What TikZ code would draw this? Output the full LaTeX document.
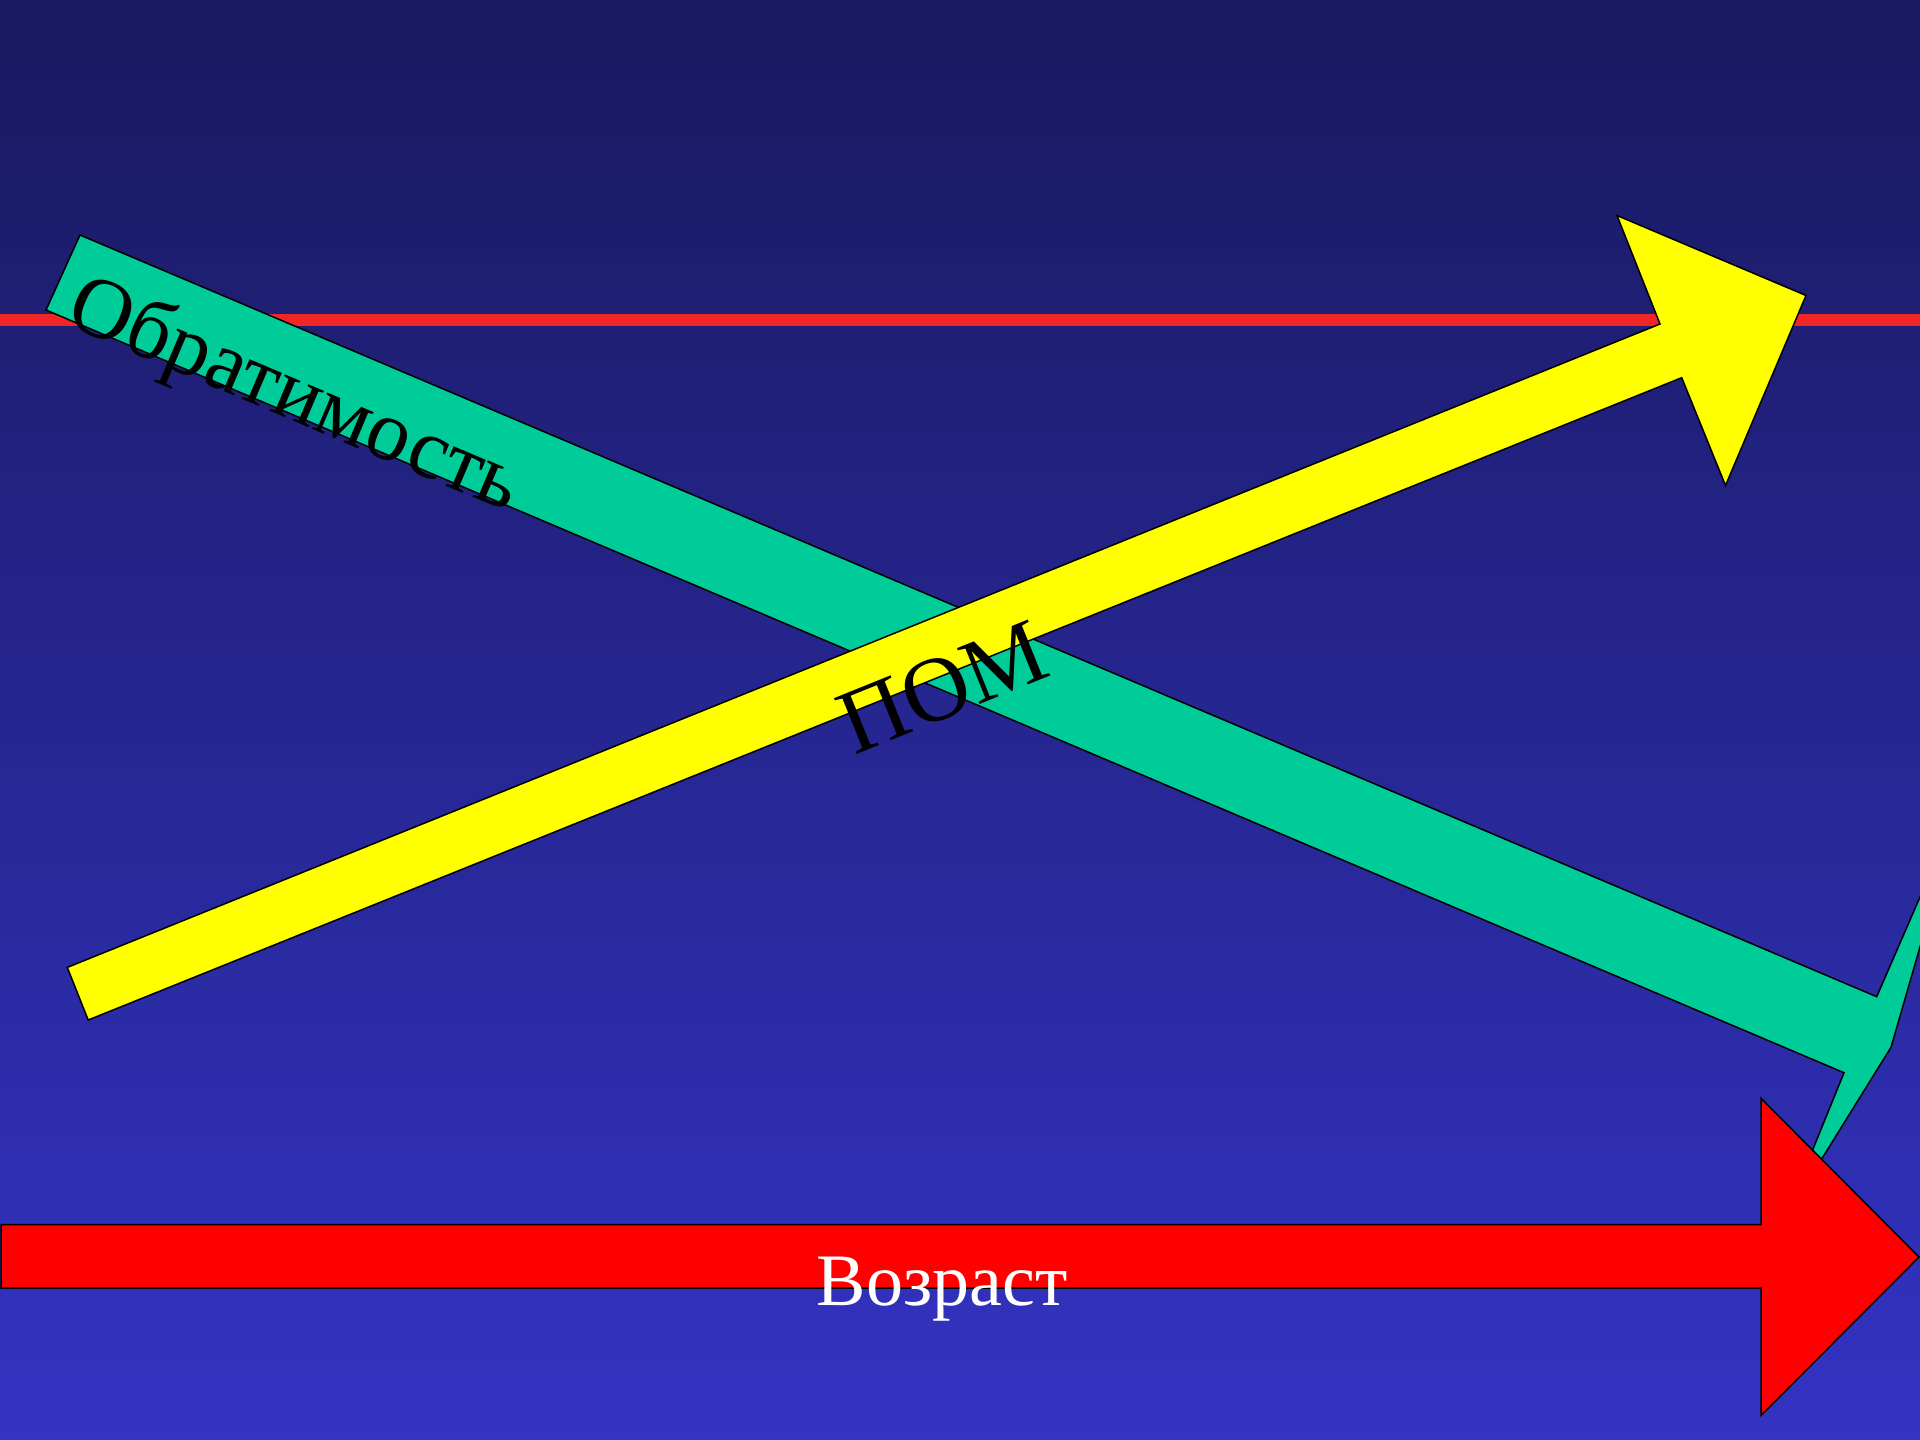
\documentclass[tikz,border=0pt]{standalone}
\usepackage{fontspec}
\setmainfont{Liberation Serif}
\usepackage{xcolor}
\definecolor{bgtop}{RGB}{25,25,95}
\definecolor{bgbottom}{RGB}{51,51,196}
\definecolor{linered}{RGB}{240,38,38}
\definecolor{arrgreen}{RGB}{0,204,153}
\definecolor{arryellow}{RGB}{255,255,0}
\definecolor{arrred}{RGB}{255,0,0}
\usetikzlibrary{positioning}

\begin{document}
\begin{tikzpicture}[x=1pt, y=-1pt,
  blockarrow/.style={draw=black, line width=1.5pt, line join=miter},
  biglabel/.style={font=\fontsize{86}{90}\selectfont, inner sep=0pt}]
  \useasboundingbox (0,0) rectangle (1920,1440);
  \clip (0,0) rectangle (1920,1440);
  % background
  \shade[top color=bgtop, bottom color=bgbottom] (0,0) rectangle (1920,1440);
  % red rule
  \fill[linered] (0,314) rectangle (1920,326);

  % Green arrow (down to the right)
  \draw[blockarrow, fill=arrgreen] (80,235) -- (1876.7,996.7) -- (1963,798)
    -- (1891,1047.3) -- (1785,1218) -- (1844,1072.7) -- (46,310) -- cycle;
  \node[biglabel, rotate=-23] (obr) at (294,398) {Обратимость};

  % Yellow arrow (up to the right)
  \draw[blockarrow, fill=arryellow] (67.3,967.4) -- (1660,324) -- (1617,215.5)
    -- (1806,295.5) -- (1725.5,485.5) -- (1681.7,377.7) -- (88.2,1020) -- cycle;
  \node[biglabel, font=\fontsize{92}{96}\selectfont, rotate=22] (pom) at (943,687) {ПОМ};

  % Red arrow (age axis)
  \draw[blockarrow, fill=arrred] (1,1224.5) -- (1761,1224.5) -- (1761,1098.3)
    -- (1919,1257) -- (1761,1415.5) -- (1761,1288) -- (1,1288) -- cycle;
  \node[font=\fontsize{74}{78}\selectfont, white, inner sep=0pt, anchor=base] (age) at (942,1305) {Возраст};
\end{tikzpicture}
\end{document}
